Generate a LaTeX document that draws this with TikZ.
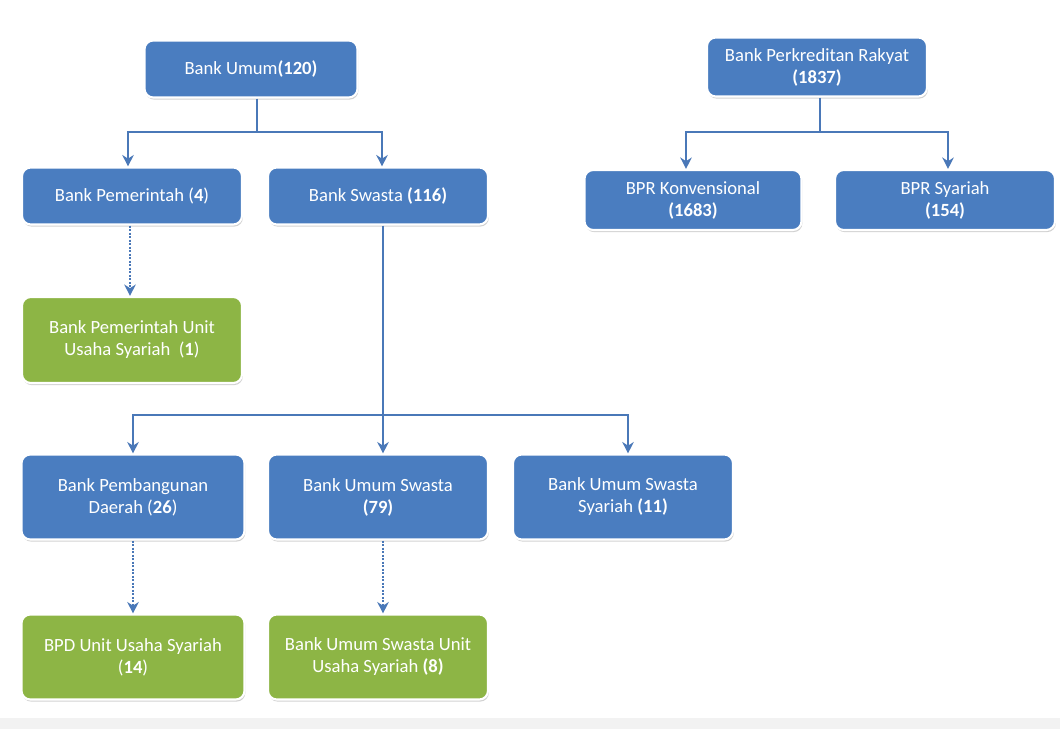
\documentclass[tikz,border=0pt]{standalone}
\usepackage{fontspec}
\setmainfont{Carlito}
\usetikzlibrary{arrows.meta,shadows}
\definecolor{bblue}{HTML}{4A7DC0}
\definecolor{bgreen}{HTML}{8DB545}
\definecolor{lblue}{HTML}{4A78B8}
\tikzset{
  px/.style={x=0.02cm,y=-0.02cm},
  boxb/.style={draw=white,line width=1.2pt,fill=bblue,rounded corners=5pt,text=white,
    font=\fontsize{10.6}{12.5}\selectfont,align=center,inner sep=0pt,
    drop shadow={shadow xshift=0.5pt,shadow yshift=-1.2pt,opacity=0.35,fill=gray}},
  boxg/.style={boxb,fill=bgreen},
  conn/.style={draw=lblue,line width=1.6pt},
  arr/.style={conn,-{Stealth[length=6.5pt,width=6.5pt]}},
  dotarr/.style={draw=lblue,line width=1.3pt,dash pattern=on 1.2pt off 0.8pt,-{Stealth[length=6.5pt,width=6.5pt]}},
}
\begin{document}
\begin{tikzpicture}[px]
\useasboundingbox (0,0) rectangle (1060,729);
\fill[white] (0,0) rectangle (1060,729);
\fill[gray!10] (0,718) rectangle (1060,729);
\node[boxb,minimum width=213*0.02cm,minimum height=57*0.02cm] (bu) at (251,69) {Bank Umum\textbf{(120)}};
\node[boxb,minimum width=220*0.02cm,minimum height=59*0.02cm] (bpr) at (817,67) {Bank Perkreditan Rakyat\\\textbf{(1837)}};
\node[boxb,minimum width=220*0.02cm,minimum height=57*0.02cm] (bp) at (132,196) {Bank Pemerintah (\textbf{4})};
\node[boxb,minimum width=220*0.02cm,minimum height=57*0.02cm] (bs) at (378,196) {Bank Swasta \textbf{(116)}};
\node[boxb,minimum width=217*0.02cm,minimum height=60*0.02cm] (bk) at (693,200) {BPR Konvensional\\\textbf{(1683)}};
\node[boxb,minimum width=220*0.02cm,minimum height=60*0.02cm] (bsy) at (945,200) {BPR Syariah\\\textbf{(154)}};
\node[boxg,minimum width=220*0.02cm,minimum height=86*0.02cm] (bpu) at (132,340) {Bank Pemerintah Unit\\Usaha Syariah~ (\textbf{1})};
\node[boxb,minimum width=223*0.02cm,minimum height=85*0.02cm] (bpd) at (133,497) {Bank Pembangunan\\Daerah (\textbf{26})};
\node[boxb,minimum width=220*0.02cm,minimum height=85*0.02cm] (bus) at (378,497) {Bank Umum Swasta\\\textbf{(79)}};
\node[boxb,minimum width=220*0.02cm,minimum height=85*0.02cm] (buss) at (623,497) {Bank Umum Swasta\\Syariah \textbf{(11)}};
\node[boxg,minimum width=223*0.02cm,minimum height=85*0.02cm] (bpdu) at (133,657) {BPD Unit Usaha Syariah\\(\textbf{14})};
\node[boxg,minimum width=220*0.02cm,minimum height=85*0.02cm] (busu) at (378,657) {Bank Umum Swasta Unit\\Usaha Syariah \textbf{(8)}};
% Bank Umum tree
\coordinate (j1) at (257,132);
\draw[conn] (bu.south -| j1) -- (j1);
\draw[arr] (j1) -| ([xshift=-4*0.02cm]bp.north);
\draw[arr] (j1) -| ([xshift=4*0.02cm]bs.north);
% BPR tree
\coordinate (j2) at (820,132);
\draw[conn] (bpr.south -| j2) -- (j2);
\draw[arr] (j2) -| ([xshift=-7*0.02cm]bk.north);
\draw[arr] (j2) -| ([xshift=3*0.02cm]bsy.north);
% Bank Swasta tree
\coordinate (j3) at (383,415);
\draw[conn] (bs.south -| j3) -- (j3);
\draw[arr] (j3) -| (bpd.north);
\draw[arr] (j3) -- (bus.north -| j3);
\draw[arr] (j3) -| ([xshift=5*0.02cm]buss.north);
% dotted
\draw[dotarr] ([xshift=-2*0.02cm]bp.south) -- ([xshift=-2*0.02cm]bpu.north);
\draw[dotarr] (bpd.south) -- (bpdu.north);
\draw[dotarr] ([xshift=5*0.02cm]bus.south) -- ([xshift=5*0.02cm]busu.north);
\end{tikzpicture}
\end{document}
